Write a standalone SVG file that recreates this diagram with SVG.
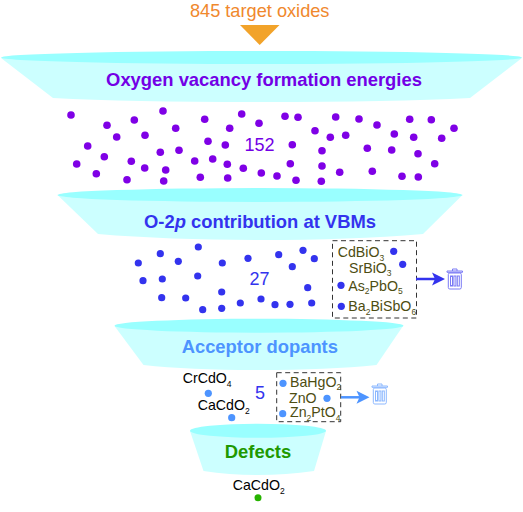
<svg xmlns="http://www.w3.org/2000/svg" xmlns:xlink="http://www.w3.org/1999/xlink" width="523" height="512" viewBox="0 0 523 512">
<style>
text{font-family:"Liberation Sans",Arial,sans-serif}
.body{fill:#ccffff}
.rim{fill:#99ffff}
.title{font-size:18.400px;font-weight:bold}
.cnt{font-size:18px}
.m{font-size:14.200px;fill:#000}
.o{font-size:14.200px;fill:#4d4d12}
.sub{font-size:8.500px}
.box{fill:none;stroke:#333;stroke-width:1;stroke-dasharray:5 3.5}
.p circle{fill:#7f00e6;r:3.800px}
.b circle{fill:#3333ee;r:3.600px}
.a circle{fill:#4d94ff;r:3.600px}
.can{fill:none;stroke-width:1}
</style>
<defs>
<g id="can">
<path d="M1.500 4.500H17V5.800H1.500Z M7 4.500V2.500H11.500V4.500"/>
<rect x="2.800" y="6.500" width="13" height="16" rx="1.500"/>
<rect x="5" y="9.500" width="2" height="10"/><rect x="8.400" y="9.500" width="2" height="10"/><rect x="11.800" y="9.500" width="2" height="10"/>
</g>
</defs>
<rect width="523" height="512" fill="#fff"/>
<g id="source">
<text x="259.700" y="16.500" font-size="18.200" fill="#f0882d" text-anchor="middle">845 target oxides</text>
<polygon points="240,25 279.500,25 259.700,45" fill="#f2a32a"/>
</g>
<g id="funnel-1">
<path class="body" d="M1 58L53 98Q130 102 261.500 102Q393 102 470 98L522 58Z"/>
<ellipse class="rim" cx="261.500" cy="57.500" rx="260.500" ry="6.500"/>
<text class="title" x="264" y="86" fill="#7300e6" text-anchor="middle">Oxygen vacancy formation energies</text>
</g>
<g id="dots-1" class="p">
<circle cx="71" cy="115" r="3.500"/><circle cx="107" cy="125.300" r="3.500"/><circle cx="134.300" cy="120" r="3.500"/><circle cx="163" cy="111" r="3.500"/><circle cx="175.700" cy="128.300" r="3.500"/><circle cx="204.700" cy="119.300" r="3.500"/><circle cx="229.700" cy="128.300" r="3.500"/><circle cx="241.700" cy="114" r="3.500"/><circle cx="259" cy="123.300" r="3.500"/><circle cx="285" cy="116.300" r="3.500"/><circle cx="298" cy="117.300" r="3.500"/><circle cx="335.700" cy="117" r="3.500"/><circle cx="359" cy="119" r="3.500"/><circle cx="377" cy="125" r="3.500"/><circle cx="409.700" cy="119.300" r="3.500"/><circle cx="431.300" cy="119.700" r="3.500"/><circle cx="454" cy="128.300" r="3.500"/>
<circle cx="116.700" cy="137" r="3.500"/><circle cx="145" cy="135.300" r="3.500"/><circle cx="87.700" cy="146" r="3.500"/><circle cx="208" cy="141.300" r="3.500"/><circle cx="225.300" cy="145" r="3.500"/><circle cx="292.300" cy="144.700" r="3.500"/><circle cx="315" cy="130.700" r="3.500"/><circle cx="330.300" cy="137.300" r="3.500"/><circle cx="345.700" cy="135.300" r="3.500"/><circle cx="394.300" cy="134" r="3.500"/><circle cx="413.700" cy="137.300" r="3.500"/><circle cx="441.700" cy="138.300" r="3.500"/>
<circle cx="104.300" cy="156.700" r="3.500"/><circle cx="160.300" cy="152.300" r="3.500"/><circle cx="179" cy="150.300" r="3.500"/><circle cx="322" cy="150.700" r="3.500"/><circle cx="367.300" cy="148.300" r="3.500"/><circle cx="391.700" cy="150" r="3.500"/><circle cx="418" cy="153.700" r="3.500"/>
<circle cx="76.700" cy="164" r="3.500"/><circle cx="131.300" cy="161.300" r="3.500"/><circle cx="194.700" cy="161" r="3.500"/><circle cx="212.700" cy="159" r="3.500"/><circle cx="227.300" cy="164.300" r="3.500"/><circle cx="290.300" cy="163.700" r="3.500"/><circle cx="322" cy="166" r="3.500"/><circle cx="434.700" cy="163.700" r="3.500"/>
<circle cx="96.300" cy="173.700" r="3.500"/><circle cx="144.700" cy="168" r="3.500"/><circle cx="165.700" cy="170" r="3.500"/><circle cx="243.300" cy="168.300" r="3.500"/><circle cx="261.300" cy="173" r="3.500"/><circle cx="277" cy="176" r="3.500"/><circle cx="339.700" cy="172.300" r="3.500"/><circle cx="372.300" cy="171.300" r="3.500"/>
<circle cx="127" cy="179.700" r="3.500"/><circle cx="163.700" cy="181" r="3.500"/><circle cx="200.300" cy="177.300" r="3.500"/><circle cx="227.700" cy="178" r="3.500"/><circle cx="296" cy="180.300" r="3.500"/><circle cx="321.300" cy="181.300" r="3.500"/><circle cx="402" cy="176.300" r="3.500"/><circle cx="418.300" cy="177" r="3.500"/>
<text class="cnt" x="259.500" y="150.500" fill="#7300e6" text-anchor="middle">152</text>
</g>
<g id="funnel-2">
<path class="body" d="M57.500 195L98 234Q170 240 260 240Q350 240 423 234L462.500 195Z"/>
<ellipse class="rim" cx="260" cy="195" rx="202.500" ry="7"/>
<text class="title" x="260" y="228.300" fill="#3333ee" text-anchor="middle">O-2<tspan font-style="italic">p</tspan> contribution at VBMs</text>
</g>
<g id="dots-2" class="b">
<circle cx="198.300" cy="247" r="3.300"/><circle cx="160.300" cy="253.700" r="3.300"/><circle cx="138.300" cy="263" r="3.300"/><circle cx="178.300" cy="261.300" r="3.300"/><circle cx="222.300" cy="263" r="3.300"/><circle cx="248" cy="258.300" r="3.300"/><circle cx="278.700" cy="254.700" r="3.300"/><circle cx="303" cy="250.300" r="3.300"/><circle cx="314.300" cy="258.700" r="3.300"/><circle cx="292.300" cy="266.700" r="3.300"/><circle cx="143" cy="280.700" r="3.300"/><circle cx="162.300" cy="279" r="3.300"/><circle cx="197.700" cy="276" r="3.300"/><circle cx="307.700" cy="287.700" r="3.300"/><circle cx="221.700" cy="292" r="3.300"/><circle cx="161.700" cy="297.700" r="3.300"/><circle cx="185.700" cy="298" r="3.300"/><circle cx="202.700" cy="309.700" r="3.300"/><circle cx="221.700" cy="308.300" r="3.300"/><circle cx="240.300" cy="303" r="3.300"/><circle cx="261" cy="299" r="3.300"/><circle cx="275" cy="304.700" r="3.300"/><circle cx="290" cy="304.300" r="3.300"/><circle cx="311.700" cy="303" r="3.300"/>
<text class="cnt" x="259.500" y="285" fill="#3333ee" text-anchor="middle">27</text>
</g>
<g id="discard-1" class="b">
<rect class="box" x="332.500" y="240.700" width="84" height="77.300"/>
<circle cx="393.700" cy="251.300" r="3.300"/><circle cx="402.700" cy="264.300" r="3.300"/><circle cx="341" cy="285.300" r="3.300"/><circle cx="341.300" cy="306.300" r="3.300"/>
<text class="o" x="337.700" y="257.300">CdBiO<tspan class="sub" dy="3.500">3</tspan></text>
<text class="o" x="349" y="272.700">SrBiO<tspan class="sub" dy="3.500">3</tspan></text>
<text class="o" x="348.300" y="290.700">As<tspan class="sub" dy="3.500">2</tspan><tspan dy="-3.500">PbO</tspan><tspan class="sub" dy="3.500">5</tspan></text>
<text class="o" x="348.300" y="311">Ba<tspan class="sub" dy="3.500">2</tspan><tspan dy="-3.500">BiSbO</tspan><tspan class="sub" dy="3.500">6</tspan></text>
</g>
<g id="bin-1"><use xlink:href="#can" href="#can" x="445.500" y="266.500" class="can" stroke="#7a7af5" fill="#eef"/></g>
<g id="funnel-3">
<path class="body" d="M114.500 326L143.500 365Q190 370 259 370Q328 370 376.500 365L403 326Z"/>
<ellipse class="rim" cx="259" cy="325.700" rx="144.500" ry="7"/>
<text class="title" x="259.800" y="353.300" fill="#4d94ff" text-anchor="middle">Acceptor dopants</text>
</g>
<g id="dots-3" class="a">
<circle cx="208.300" cy="393.300" r="3.300"/><circle cx="231.700" cy="417.700" r="3.300"/>
<text class="m" x="182.700" y="383">CrCdO<tspan class="sub" dy="3.500">4</tspan></text>
<text class="m" x="197.700" y="410">CaCdO<tspan class="sub" dy="3.500">2</tspan></text>
<text class="cnt" x="260" y="399.300" fill="#3333ee" text-anchor="middle">5</text>
</g>
<g id="discard-2" class="a">
<rect class="box" x="276.700" y="372.700" width="64" height="49"/>
<circle cx="283" cy="383.300" r="3.300"/><circle cx="327" cy="398.300" r="3.300"/><circle cx="282.700" cy="413.700" r="3.300"/>
<text class="o" x="290" y="386.700">BaHgO<tspan class="sub" dy="3.500">2</tspan></text>
<text class="o" x="289" y="402.700">ZnO</text>
<text class="o" x="290" y="417.300">Zn<tspan class="sub" dy="3.500">2</tspan><tspan dy="-3.500">PtO</tspan><tspan class="sub" dy="3.500">4</tspan></text>
</g>
<g id="bin-2"><use xlink:href="#can" href="#can" x="370.500" y="381.500" class="can" stroke="#8cb8ff" fill="#f2f7ff"/></g>
<g id="funnel-4">
<path class="body" d="M190 431L203.500 471Q230 475 258 475Q286 475 314 471L326 431Z"/>
<ellipse class="rim" cx="258" cy="430.700" rx="68" ry="7"/>
<text class="title" x="258" y="458" fill="#1f9900" text-anchor="middle">Defects</text>
</g>
<g id="result">
<text class="m" x="232.700" y="490">CaCdO<tspan class="sub" dy="3.500">2</tspan></text>
<circle cx="258" cy="497.700" r="3.500" fill="#26b300"/>
</g>
<g id="connectors">
<path d="M416 279H437" stroke="#3333ee" stroke-width="2.500" fill="none"/>
<polygon points="445,279 432,272.500 435,279 432,285.500" fill="#3333ee"/>
<path d="M341 397.300H361" stroke="#4d94ff" stroke-width="2.500" fill="none"/>
<polygon points="369.500,397.300 356.500,390.800 359.500,397.300 356.500,403.800" fill="#4d94ff"/>
</g>
</svg>
